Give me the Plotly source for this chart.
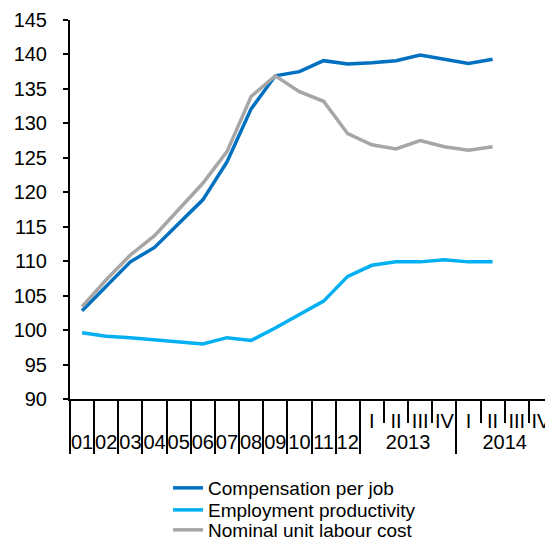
import plotly.graph_objects as go

# x axis: years 2001-2012, then quarters of 2013 and 2014
outer = ["01", "02", "03", "04", "05", "06", "07", "08", "09", "10", "11", "12",
         "2013", "2013", "2013", "2013", "2014", "2014", "2014", "2014"]
inner = [" "] * 12 + ["I", "II", "III", "IV", "I", "II", "III", "IV"]

compensation = [102.8, 106.3, 109.9, 112.0, 115.5, 118.9, 124.4, 132.1, 136.9, 137.5,
                139.1, 138.6, 138.8, 139.1, 139.9, 139.3, 138.7, 139.3, None, None]
productivity = [99.6, 99.1, 98.9, 98.6, 98.4, 98.0, 98.9, 98.5, 100.3, 102.2,
                104.2, 107.8, 109.4, 109.9, 109.9, 110.2, 109.9, 109.9, None, None]
unit_cost = [103.4, 107.3, 110.9, 113.7, 117.5, 121.3, 125.9, 133.9, 136.9, 134.6,
             133.2, 128.5, 126.9, 126.3, 127.5, 126.6, 126.1, 126.6, None, None]

names = ["Compensation per job", "Employment productivity", "Nominal unit labour cost"]
colors = ["#0070C0", "#00B0F0", "#A6A6A6"]
legends = ["legend", "legend2", "legend3"]
legend_y = [-0.2316, -0.2895, -0.3474]

fig = go.Figure()
for name, vals, col, lg in zip(names, [compensation, productivity, unit_cost], colors, legends):
    fig.add_trace(go.Scatter(x=[outer, inner], y=vals, name=name, mode="lines",
                             line=dict(color=col, width=3.5), legend=lg))

# the page body has an 8px margin, so the figure is 8px smaller than the window
fig.update_layout(
    width=545, height=541,
    margin=dict(l=62, r=0, t=12, b=149),
    plot_bgcolor="white", paper_bgcolor="white",
    font=dict(family="Liberation Sans, Arial", size=20, color="black"),
    showlegend=True,
)
for lg, ly in zip(legends, legend_y):
    fig.update_layout({lg: dict(x=0.203, y=ly, xanchor="left", yanchor="middle",
                                font=dict(size=19), itemwidth=30,
                                bgcolor="rgba(0,0,0,0)")})

fig.update_yaxes(range=[90, 145], dtick=5, showgrid=False, zeroline=False,
                 showline=True, linecolor="black", linewidth=2, automargin=False,
                 ticks="outside", ticklen=5, tickwidth=2, tickcolor="black",
                 ticklabelstandoff=12)
fig.update_xaxes(type="multicategory", range=[-0.5, 19.5], showgrid=False,
                 showline=True, linecolor="black", linewidth=2, automargin=False,
                 tickangle=0, ticklabelstandoff=3,
                 ticks="outside", tickson="boundaries", ticklen=22, tickwidth=2,
                 tickcolor="black", showdividers=True, dividercolor="black",
                 dividerwidth=2)

fig.write_html("out.html")
